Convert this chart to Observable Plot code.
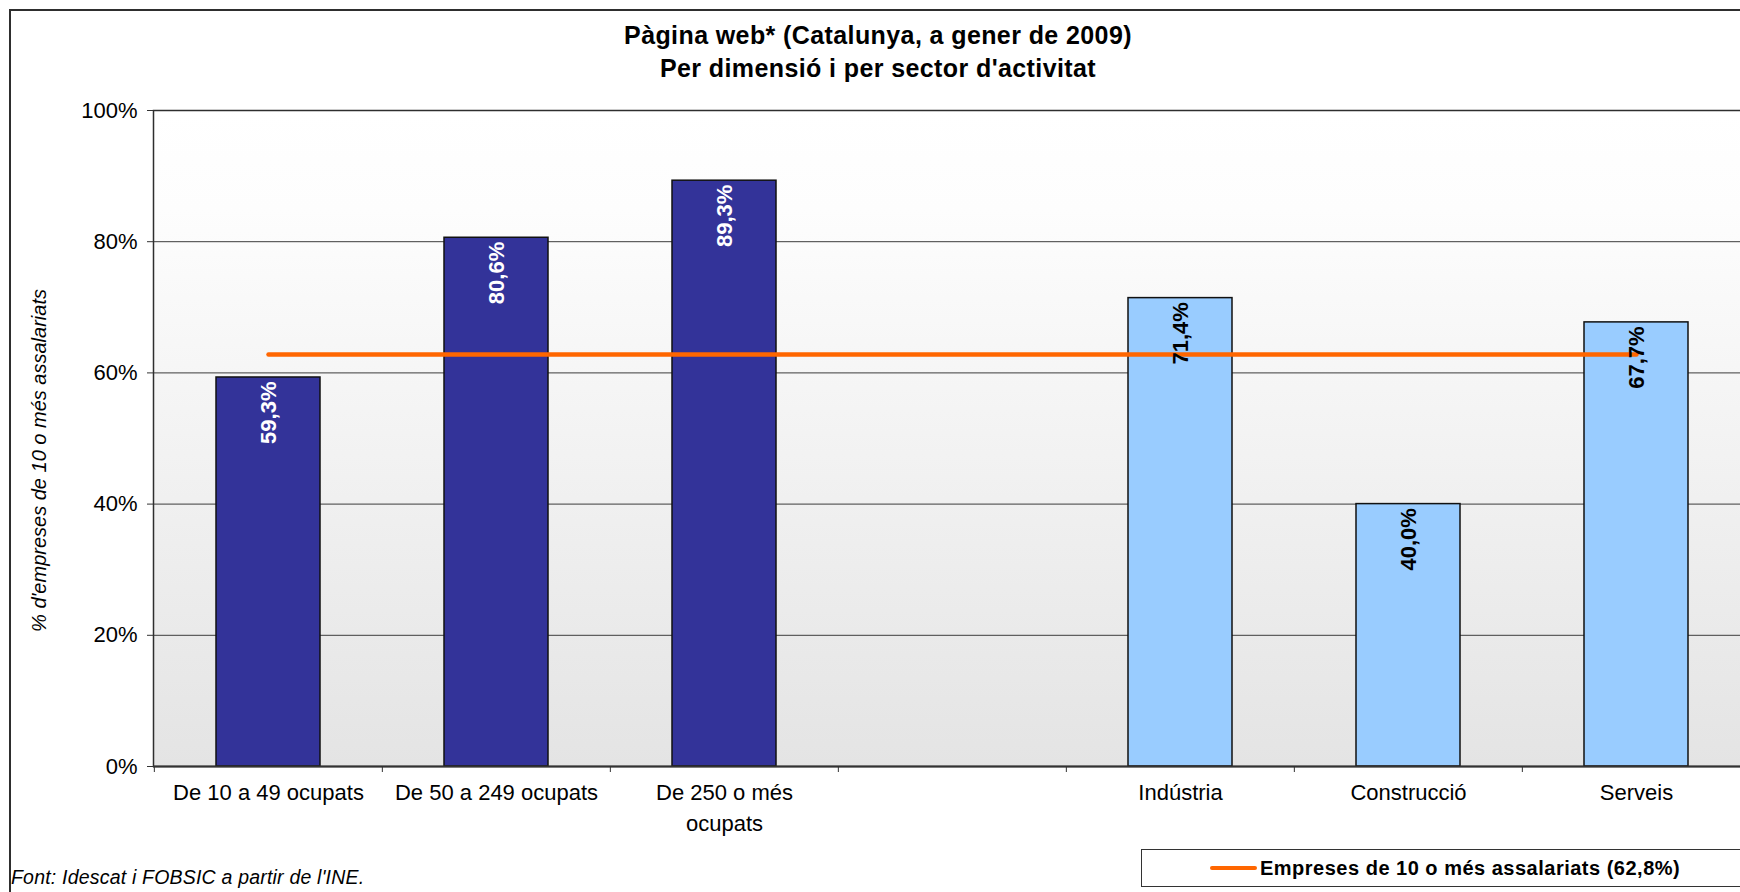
<!DOCTYPE html>
<html>
<head>
<meta charset="utf-8">
<script src="https://cdn.jsdelivr.net/npm/d3@7"></script>
<script src="https://cdn.jsdelivr.net/npm/@observablehq/plot@0.6"></script>
<style>
  html, body { margin: 0; padding: 0; background: #fff; overflow: hidden; width: 1740px; height: 892px; }
  body { position: relative; font-family: "Liberation Sans", Arial, sans-serif; color: #000; }
  #frame { position: absolute; left: 9px; top: 9px; width: 1800px; height: 1000px; border-left: 2px solid #2e2e2e; border-top: 2px solid #2e2e2e; }
  #title { position: absolute; left: 0; top: 19px; width: 1756px; text-align: center; font-weight: bold; font-size: 25px; letter-spacing: 0.4px; line-height: 33px; }
  #chart { position: absolute; left: 0; top: 90px; width: 1760px; }
  #chart svg { max-width: none !important; }
  #caption { position: absolute; left: 11px; top: 868px; font-style: italic; font-size: 19.5px; letter-spacing: 0.2px; line-height: 19px; white-space: nowrap; }
  #legend { position: absolute; left: 1141px; top: 849px; width: 700px; height: 36px; border: 1.5px solid #333; box-sizing: content-box; }
  #legend .sw { position: absolute; left: 68px; top: 16px; width: 47px; height: 4px; border-radius: 2px; }
  #legend .lbl { position: absolute; left: 118px; top: 0; line-height: 36px; font-weight: bold; font-size: 20px; letter-spacing: 0.5px; white-space: nowrap; }
</style>
</head>
<body>
<div id="frame"></div>
<div id="title"></div>
<div id="chart"></div>
<div id="caption"></div>
<div id="legend"><div class="sw"></div><div class="lbl"></div></div>
<script>
// ---- data ----
const titleLines = ["Pàgina web* (Catalunya, a gener de 2009)", "Per dimensió i per sector d'activitat"];
const yAxisLabel = "% d'empreses de 10 o més assalariats";
const caption = "Font: Idescat i FOBSIC a partir de l'INE.";
const categories = ["De 10 a 49 ocupats", "De 50 a 249 ocupats", "De 250 o més ocupats", "buit", "Indústria", "Construcció", "Serveis"];
const tickLabels = ["De 10 a 49 ocupats", "De 50 a 249 ocupats", "De 250 o més\nocupats", "", "Indústria", "Construcció", "Serveis"];
const groups = ["dimensió", "dimensió", "dimensió", null, "sector", "sector", "sector"];
const values = [59.3, 80.6, 89.3, null, 71.4, 40.0, 67.7];
const valueLabels = ["59,3%", "80,6%", "89,3%", "", "71,4%", "40,0%", "67,7%"];
const averageValue = 62.8;
const averageLabel = "Empreses de 10 o més assalariats (62,8%)";
const yTicks = [0, 20, 40, 60, 80, 100];
const groupNames = ["dimensió", "sector"];
const groupColors = ["#333399", "#99CCFF"];
const lineColor = "#FF6600";

// ---- build ----
document.getElementById("title").innerHTML = titleLines.map(t => `<div>${t}</div>`).join("");
document.getElementById("caption").textContent = caption;
document.querySelector("#legend .sw").style.background = lineColor;
document.querySelector("#legend .lbl").textContent = averageLabel;

const bars = categories.map((c, i) => ({cat: c, group: groups[i], value: values[i], label: valueLabels[i]}))
  .filter(d => d.value != null);
const ticksData = categories.map((c, i) => ({cat: c, label: tickLabels[i]}));
const avgLine = [{cat: categories[0], value: averageValue}, {cat: categories[categories.length - 1], value: averageValue}];

const W = 1760, H = 760, ML = 153, MR = 9, MT = 20, MB = 84;
const step = (W - ML - MR) / categories.length;
const pInner = 0.5445;

const svg = Plot.plot({
  width: W, height: H,
  marginLeft: ML, marginRight: MR, marginTop: MT, marginBottom: MB,
  style: {fontSize: "22px", fontFamily: "'Liberation Sans', Arial, sans-serif", color: "#000", background: "transparent", overflow: "visible", maxWidth: "none"},
  x: {domain: categories, paddingInner: pInner, paddingOuter: pInner / 2, label: null},
  y: {domain: [0, 100], label: null},
  color: {domain: groupNames, range: groupColors},
  marks: [
    Plot.frame({fill: "url(#bgGrad)", stroke: null}),
    Plot.ruleY(yTicks.slice(1), {stroke: "#3c3c3c", strokeWidth: 1}),
    Plot.frame({stroke: "#2e2e2e", strokeWidth: 1.5, fill: null}),
    Plot.barY(bars, {x: "cat", y: "value", fill: "group", stroke: "#111", strokeWidth: 1.5}),
    Plot.ruleY([0], {stroke: "#333", strokeWidth: 2}),
    Plot.axisY({ticks: yTicks, tickFormat: d => `${d}%`, tickSize: 6, tickPadding: 10, stroke: "#333"}),
    Plot.axisX({tickSize: 6, tickFormat: () => "", dx: -step / 2, stroke: "#333"}),
    Plot.text(ticksData, {x: "cat", text: "label", frameAnchor: "bottom", lineAnchor: "top", lineHeight: 1.4, dy: 11.4, fontSize: 22, letterSpacing: "1px"}),
    Plot.line(avgLine, {x: "cat", y: "value", stroke: lineColor, strokeWidth: 4.5, strokeLinecap: "round"}),
    Plot.text(bars.filter(d => d.group === groupNames[0]), {x: "cat", y: "value", text: "label", rotate: -90, textAnchor: "end", dy: 4, fill: "#fff", fontWeight: "bold", fontSize: 22, letterSpacing: "0.8px"}),
    Plot.text(bars.filter(d => d.group === groupNames[1]), {x: "cat", y: "value", text: "label", rotate: -90, textAnchor: "end", dy: 4, fill: "#000", fontWeight: "bold", fontSize: 22, letterSpacing: "0.8px"}),
    Plot.text([yAxisLabel], {frameAnchor: "left", textAnchor: "middle", rotate: -90, dx: -(ML - 39), dy: 22, fontStyle: "italic", fontSize: 20})
  ]
});

const ns = "http://www.w3.org/2000/svg";
const defs = document.createElementNS(ns, "defs");
defs.innerHTML = `<linearGradient id="bgGrad" x1="0" y1="0" x2="0" y2="1"><stop offset="0" stop-color="#ffffff"/><stop offset="0.15" stop-color="#fdfdfd"/><stop offset="1" stop-color="#e4e4e4"/></linearGradient>`;
svg.insertBefore(defs, svg.firstChild);
document.getElementById("chart").appendChild(svg);
</script>
</body>
</html>
